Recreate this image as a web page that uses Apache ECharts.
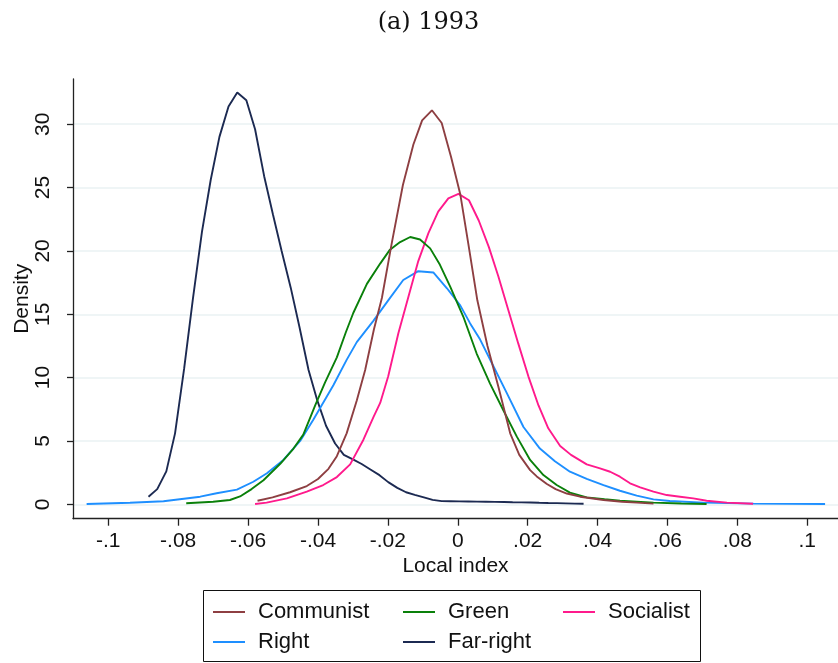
<!DOCTYPE html>
<html>
<head>
<meta charset="utf-8">
<script src="https://cdn.jsdelivr.net/npm/echarts@6/dist/echarts.min.js"></script>
<style>
html,body{margin:0;padding:0;background:#fff;}
#chart{width:838px;height:663px;}
</style>
</head>
<body>
<div id="chart"></div>
<script>
const seriesNames = ['Communist', 'Green', 'Socialist', 'Right', 'Far-right'];
const xTicks = [-0.1, -0.08, -0.06, -0.04, -0.02, 0, 0.02, 0.04, 0.06, 0.08, 0.1];
const yTicks = [0, 5, 10, 15, 20, 25, 30];

const communist = [
  [-0.0573,0.28],[-0.0530,0.55],[-0.0480,0.95],[-0.0432,1.44],[-0.0400,2.0],[-0.0370,2.8],
  [-0.0346,3.8],[-0.0318,5.6],[-0.0289,8.2],[-0.0265,10.6],[-0.0240,13.8],[-0.0217,16.3],
  [-0.0189,20.6],[-0.0157,25.2],[-0.0127,28.4],[-0.0102,30.3],[-0.0074,31.1],[-0.0046,30.1],
  [-0.0019,27.4],[0.0007,24.5],[0.0030,20.6],[0.0056,16.1],[0.0085,12.5],[0.0116,9.3],
  [0.0150,5.6],[0.0176,3.9],[0.0207,2.7],[0.0226,2.2],[0.0255,1.6],[0.0280,1.2],
  [0.0312,0.85],[0.0350,0.6],[0.0417,0.34],[0.0470,0.2],[0.0512,0.13],[0.0560,0.05]
];
const green = [
  [-0.0777,0.08],[-0.0700,0.2],[-0.0652,0.34],[-0.0623,0.62],[-0.0590,1.2],[-0.0556,1.9],
  [-0.0508,3.2],[-0.0470,4.4],[-0.0442,5.5],[-0.0408,7.8],[-0.0380,9.6],[-0.0346,11.6],
  [-0.0320,13.6],[-0.0299,15.1],[-0.0260,17.4],[-0.0222,19.0],[-0.0194,20.1],[-0.0165,20.7],
  [-0.0136,21.1],[-0.0108,20.9],[-0.0079,20.2],[-0.0051,18.9],[-0.0022,17.2],[0.0016,14.8],
  [0.0054,11.9],[0.0092,9.55],[0.0130,7.44],[0.0169,5.34],[0.0207,3.5],[0.0245,2.31],
  [0.0283,1.52],[0.0321,0.92],[0.0369,0.55],[0.0420,0.4],[0.0464,0.28],[0.0560,0.13],
  [0.0640,0.06],[0.0712,0.02]
];
const socialist = [
  [-0.0580,0.02],[-0.0547,0.13],[-0.0489,0.47],[-0.0432,1.0],[-0.0385,1.52],[-0.0346,2.15],
  [-0.0308,3.15],[-0.0270,5.1],[-0.0241,6.9],[-0.0222,8.0],[-0.0199,10.1],[-0.0170,13.5],
  [-0.0141,16.4],[-0.0113,19.2],[-0.0084,21.4],[-0.0056,23.1],[-0.0027,24.15],[0.0002,24.5],
  [0.0032,24.0],[0.0060,22.4],[0.0089,20.3],[0.0116,18.0],[0.0145,15.3],[0.0173,12.7],
  [0.0202,10.1],[0.0231,7.8],[0.0259,6.0],[0.0293,4.6],[0.0324,3.9],[0.0369,3.15],
  [0.0407,2.84],[0.0436,2.57],[0.0464,2.18],[0.0493,1.66],[0.0522,1.34],[0.0560,1.0],
  [0.0598,0.73],[0.0636,0.6],[0.0674,0.47],[0.0712,0.28],[0.0770,0.13],[0.0845,0.04]
];
const right = [
  [-0.1062,0.02],[-0.0938,0.12],[-0.0842,0.24],[-0.0737,0.6],[-0.0690,0.87],[-0.0632,1.16],
  [-0.0585,1.78],[-0.0546,2.45],[-0.0499,3.5],[-0.0451,5.0],[-0.0413,6.7],[-0.0356,9.4],
  [-0.0318,11.4],[-0.0289,12.8],[-0.0241,14.5],[-0.0199,16.1],[-0.0156,17.7],[-0.0113,18.4],
  [-0.0070,18.3],[-0.0031,17.05],[0.0007,15.7],[0.0035,14.3],[0.0064,13.0],[0.0102,10.9],
  [0.0140,8.8],[0.0188,6.1],[0.0235,4.4],[0.0278,3.4],[0.0321,2.57],[0.0369,2.0],
  [0.0417,1.52],[0.0464,1.07],[0.0512,0.68],[0.0560,0.39],[0.0607,0.26],[0.0703,0.13],
  [0.0846,0.05],[0.1051,0.02]
];
const farRight = [
  [-0.0885,0.6],[-0.0860,1.2],[-0.0834,2.6],[-0.0809,5.6],[-0.0783,10.7],[-0.0758,16.2],
  [-0.0732,21.5],[-0.0707,25.6],[-0.0682,29.0],[-0.0656,31.4],[-0.0631,32.5],[-0.0605,31.9],
  [-0.0580,29.6],[-0.0554,25.9],[-0.0529,22.9],[-0.0504,20.0],[-0.0478,17.1],[-0.0453,14.0],
  [-0.0427,10.6],[-0.0402,8.2],[-0.0377,6.2],[-0.0351,4.8],[-0.0326,3.9],[-0.0300,3.55],
  [-0.0275,3.18],[-0.0250,2.75],[-0.0224,2.3],[-0.0199,1.75],[-0.0173,1.3],[-0.0148,0.95],
  [-0.0123,0.75],[-0.0097,0.55],[-0.0072,0.35],[-0.0046,0.25],[-0.0021,0.24],[0.0004,0.23],
  [0.0030,0.22],[0.0055,0.21],[0.0081,0.2],[0.0106,0.19],[0.0132,0.18],[0.0157,0.16],
  [0.0182,0.15],[0.0208,0.14],[0.0233,0.12],[0.0259,0.1],[0.0284,0.09],[0.0309,0.07],
  [0.0335,0.05],[0.0360,0.04]
];

const colors = ['#8e3f42', '#0a800a', '#ff1a8c', '#1e8fff', '#1c2a52'];
const dataSets = [communist, green, socialist, right, farRight];

const FONT = 'Liberation Sans, Arial, sans-serif';
const chart = echarts.init(document.getElementById('chart'), null, {renderer: 'canvas'});

function fmtX(v) {
  const r = Math.round(v * 100) / 100;
  if (r === 0) return '0';
  let s = String(r);
  s = s.replace('0.', '.');
  return s;
}

const series = seriesNames.map((n, i) => ({
  name: n,
  type: 'line',
  data: dataSets[i],
  showSymbol: false,
  symbol: 'none',
  smooth: false,
  lineStyle: {width: 1.9, color: colors[i]},
  itemStyle: {color: colors[i]},
  z: 10 - i,
  silent: true
}));

const legendCommon = {
  orient: 'vertical',
  icon: 'rect',
  itemWidth: 32,
  itemHeight: 2,
  itemGap: 6,
  top: 600,
  selectedMode: false,
  textStyle: {fontFamily: FONT, fontSize: 22, color: '#111', lineHeight: 24, padding: [0,0,0,8]},
  padding: 0
};

const option = {
  animation: false,
  backgroundColor: '#fff',
  color: colors,
  grid: {left: 73, top: 79, right: 0, bottom: 144.3, containLabel: false, outerBoundsMode: 'none'},
  xAxis: {
    type: 'value',
    min: -0.1101,
    max: 0.1088,
    name: 'Local index',
    nameLocation: 'middle',
    nameGap: 37,
    nameMoveOverlap: false,
    nameTextStyle: {fontFamily: FONT, fontSize: 21, color: '#111'},
    axisLine: {show: true, onZero: false, lineStyle: {color: '#222', width: 1.3}},
    axisTick: {show: true, length: 7, customValues: xTicks, lineStyle: {color: '#222', width: 1.3}},
    axisLabel: {customValues: xTicks, formatter: fmtX, fontFamily: FONT, fontSize: 21, color: '#111', margin: 12},
    splitLine: {show: false}
  },
  yAxis: {
    type: 'value',
    min: -1.137,
    max: 33.57,
    name: 'Density',
    nameLocation: 'middle',
    nameGap: 40,
    nameRotate: 90,
    nameMoveOverlap: false,
    nameTextStyle: {fontFamily: FONT, fontSize: 21, color: '#111'},
    axisLine: {show: true, onZero: false, lineStyle: {color: '#222', width: 1.3}},
    axisTick: {show: true, length: 6, customValues: yTicks, lineStyle: {color: '#222', width: 1.3}},
    axisLabel: {customValues: yTicks, rotate: 90, fontFamily: FONT, fontSize: 21, color: '#111', margin: 19},
    splitLine: {show: true, lineStyle: {color: '#eaf2f3', width: 1.5}}
  },
  legend: [
    Object.assign({}, legendCommon, {left: 213, data: ['Communist', 'Right']}),
    Object.assign({}, legendCommon, {left: 403, data: ['Green', 'Far-right']}),
    Object.assign({}, legendCommon, {left: 563, data: ['Socialist']})
  ],
  graphic: [
    {type: 'rect', shape: {x: 203.5, y: 590.5, width: 497, height: 71}, style: {fill: 'none', stroke: '#111', lineWidth: 1}, silent: true},
    {type: 'text', x: 428.5, y: 23, style: {text: '(a) 1993', font: '24px "DejaVu Serif", serif', fill: '#111', align: 'center', verticalAlign: 'middle'}, silent: true}
  ],
  series: series
};
chart.setOption(option);
</script>
</body>
</html>
